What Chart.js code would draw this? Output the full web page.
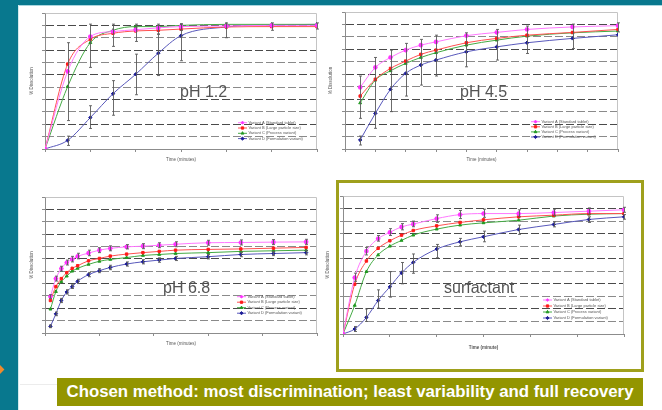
<!DOCTYPE html>
<html>
<head>
<meta charset="utf-8">
<script src="https://cdn.jsdelivr.net/npm/chart.js@4.4.0/dist/chart.umd.min.js"></script>
<style>
html, body { margin: 0; padding: 0; }
body { width: 662px; height: 410px; position: relative; overflow: hidden; background: #fff; font-family: "Liberation Sans", Arial, sans-serif; }
#topband { position: absolute; left: 0; top: 0; width: 662px; height: 5px; background: #08788e; }
#topline { position: absolute; left: 18px; top: 5px; width: 644px; height: 1px; background: #a9d6df; }
#leftband { position: absolute; left: 0; top: 0; width: 18px; height: 410px; background: #08788e; }
#leftline { position: absolute; left: 18px; top: 5px; width: 1px; height: 405px; background: #d4e9ed; }
#arrow { position: absolute; left: -4px; top: 366px; width: 7px; height: 7px; background: #f08a2c; transform: rotate(45deg); }
#faint { position: absolute; left: 20px; top: 384px; width: 37px; height: 1px; background: #ececec; }
#frame { position: absolute; left: 336px; top: 180px; width: 302px; height: 186px; border: 3px solid #9fa01c; }
#banner { position: absolute; left: 57px; top: 378px; width: 586px; height: 28px; background: #939500; color: #fff; font-weight: bold; font-size: 16.8px; line-height: 28px; text-align: center; white-space: nowrap; }
canvas { position: absolute; }
.lbl { position: absolute; font-size: 16px; color: #555; white-space: nowrap; line-height: 1; }
</style>
</head>
<body>
<div id="topband"></div>
<div id="leftband"></div>
<div id="topline"></div>
<div id="leftline"></div>
<div id="arrow"></div>
<div id="faint"></div>
<div id="frame"></div>

<canvas id="c1"></canvas>
<canvas id="c2"></canvas>
<canvas id="c3"></canvas>
<canvas id="c4"></canvas>

<div class="lbl" style="left:180px;top:84px">pH 1.2</div>
<div class="lbl" style="left:460px;top:84px">pH 4.5</div>
<div class="lbl" style="left:163px;top:280px">pH 6.8</div>
<div class="lbl" style="left:444px;top:280px">surfactant</div>

<div id="banner">Chosen method: most discrimination; least variability and full recovery</div>

<script>
var seriesNames = ['Variant A (Standard tablet)', 'Variant B (Large particle size)', 'Variant C (Process variant)', 'Variant D (Formulation variant)'];
var seriesColors = ['#ff33ff', '#ff1a1a', '#229922', '#1c1c96'];
var lineColors = ['#ff77ff', '#ff5050', '#44aa44', '#5858bb'];
var pointStyles = ['star', 'rect', 'triangle', 'rectRot'];

// pH 1.2
var ph12Time = [0, 5, 10, 15, 20, 25, 30, 40, 50, 60];
var ph12A = [0, 62.8, 91, 95, 96.5, 98, 99, 99.5, 100, 100];
var ph12B = [0, 68.7, 88.8, 93.6, 95.5, 96, 97, 98.7, 99, 99];
var ph12C = [0, 50.5, 86, 96, 99, 99, 100, 100.8, 100.8, 100.8];
var ph12D = [0, 7, 25.4, 44.7, 60.4, 77.5, 91.7, 98.7, 100.3, 100.8];
var ph12ErrHi = [null, 86, 101, 101, 101, 101, 101, null, 102, 102];
var ph12ErrLo = [null, 23, 66, 83, 87, 93, 96, null, 96, 97];
var ph12ErrDHi = [null, 10.4, 35, 55.3, 76.7, 92.8, 101.3, 102, null, null];
var ph12ErrDLo = [null, 2.9, 16.6, 27.3, 43.9, 59.4, 71.4, 90, null, null];

// pH 4.5
var ph45Time = [5, 10, 15, 20, 25, 30, 40, 50, 60, 75, 90];
var ph45A = [49.5, 65.5, 73.5, 79.4, 83.4, 86, 91, 93.6, 96, 98, 99];
var ph45B = [42.5, 56, 64.7, 70.6, 76, 79.4, 85.3, 88.8, 91.4, 93.6, 96];
var ph45C = [37, 55.3, 62.8, 68.7, 73.5, 77.3, 83.4, 87.4, 90.6, 93.3, 94.7];
var ph45D = [7.2, 28.6, 47.9, 60.7, 67.4, 71.4, 78, 82, 85.3, 88.8, 91.7];
var ph45ErrHi = [58.6, 73.5, 79.4, 84.8, 88, 91.4, 93.3, 96, 98.7, 100.3, 101.3];
var ph45ErrLo = [24.6, 16.6, 30, 42.5, 51.3, 58.6, 66, 71.4, 76.7, 80.7, 94];
var ph45ErrDHi = [10.4, null, null, null, null, null, null, null, null, null, null];
var ph45ErrDLo = [3.2, null, null, null, null, null, null, null, null, null, null];

// pH 6.8
var ph68Time = [5, 10, 15, 20, 25, 30, 40, 50, 60, 75, 90, 105, 120, 150, 180, 210, 240];
var ph68A = [29.5, 44, 52, 57, 59.5, 62, 64.6, 67, 68.4, 69.7, 70.2, 71, 71.8, 73, 73.2, 73.5, 73.7];
var ph68B = [26.3, 37.5, 44, 48.8, 52.3, 54.4, 58.4, 60.3, 62.2, 63.8, 65, 66, 67, 67.6, 68, 68.6, 69.2];
var ph68C = [19.3, 33.5, 41.5, 46, 50, 52.3, 55.5, 58, 59.5, 61, 62.7, 63.5, 64.3, 65, 66, 66.5, 67];
var ph68D = [5.4, 15.5, 26.3, 33.2, 37.5, 41.8, 47.2, 50.4, 53, 55.8, 57.6, 59, 60.3, 61.7, 63.5, 64.3, 65];
var ph68ErrHi = [31, 46, 54, 59, 62, 64.5, 67, 69, 70.5, 71.5, 72.3, 73, 73.8, 75, 75.3, 75.6, 75.8];
var ph68ErrLo = [28, 42, 50, 55, 57.5, 60, 62.5, 65, 66.5, 68, 68.2, 69, 69.8, 71, 71.2, 71.5, 71.7];
var ph68ErrDHi = [6.5, 17, 28, 35, 39, 43.5, 49, 52, 54.8, 57.5, 59.3, 60.8, 62, 63.5, 65.3, 66, 66.8];
var ph68ErrDLo = [4.3, 14, 24.6, 31.5, 36, 40, 45.5, 48.8, 51.2, 54.1, 55.9, 57.2, 58.6, 59.9, 61.7, 62.6, 63.2];

// surfactant
var surfTime = [0, 5, 10, 15, 20, 25, 30, 40, 50, 60, 75, 90, 105, 120];
var surfA = [0, 45, 66, 76, 81, 85.4, 87.6, 92, 95.2, 96, 96, 96.8, 97.9, 99];
var surfB = [0, 39.7, 58.2, 68.3, 74.3, 78.8, 82.5, 86.2, 88.9, 91, 93.4, 94.7, 96, 96];
var surfC = [0, 22.8, 49.7, 63, 70, 74.6, 78.8, 83.6, 86.8, 88.6, 90.7, 94, 95.5, 96];
var surfD = [0, 4, 13.2, 26.7, 37.6, 48.7, 57.1, 67.7, 73.5, 77.5, 83.3, 87.3, 91.3, 93.4];
var surfErrHi = [null, 48.5, 69, 78.5, 84, 88, 90, 95, 98.5, 99.5, 99, 99.5, 100.5, 101];
var surfErrLo = [null, 42, 63, 74, 78.5, 83, 85.5, 89, 92, 93, 93.5, 94.5, 95.5, 97];
var surfErrDHi = [null, 6, 20, 35.2, 49.7, 57, 63.8, 71.4, 76.2, 82, 86.8, 89.4, 93.4, 95.2];
var surfErrDLo = [null, 2, 10, 20.6, 29.4, 40, 48.4, 60.8, 70.4, 73.5, 79.4, 85.4, 88.9, 91.5];

var yTitle = '% Dissolution';

function makeChart(id, box, area, tPos, xAxis, xTitle, times, series, errSets, leg) {
  var cv = document.getElementById(id);
  cv.width = box.w; cv.height = box.h;
  cv.style.left = box.x + 'px'; cv.style.top = box.y + 'px';
  var lh = 5.4;

  var datasets = series.map(function(vals, i) {
    return {
      label: seriesNames[i],
      data: times.map(function(t, j) { return {x: t, y: vals[j]}; }),
      borderColor: lineColors[i],
      backgroundColor: seriesColors[i],
      pointBorderColor: seriesColors[i],
      pointBackgroundColor: seriesColors[i],
      pointStyle: pointStyles[i],
      pointRadius: pointStyles[i] == 'star' ? 2.3 : 1.7,
      pointBorderWidth: pointStyles[i] == 'star' ? 1.3 : 1,
      borderWidth: 1,
      cubicInterpolationMode: 'monotone',
      fill: false
    };
  });

  var framePlugin = {
    id: 'frame',
    beforeDatasetsDraw: function(chart) {
      var a = chart.chartArea, ctx = chart.ctx;
      ctx.save();
      ctx.strokeStyle = '#c4c4c4'; ctx.lineWidth = 1;
      ctx.beginPath();
      ctx.moveTo(Math.round(a.left) + 0.5, Math.round(a.top) + 0.5);
      ctx.lineTo(Math.round(a.right) - 0.5, Math.round(a.top) + 0.5);
      ctx.lineTo(Math.round(a.right) - 0.5, Math.round(a.bottom));
      ctx.stroke();
      ctx.restore();
    }
  };

  var errPlugin = {
    id: 'errorBars',
    afterDatasetsDraw: function(chart) {
      var xs = chart.scales.x, ys = chart.scales.y, ctx = chart.ctx;
      ctx.save();
      ctx.strokeStyle = '#5a5a5a'; ctx.lineWidth = 0.9;
      errSets.forEach(function(s) {
        s.hi.forEach(function(h, i) {
          var l = s.lo[i];
          if (h == null || l == null) return;
          var x = Math.round(xs.getPixelForValue(times[i])) + 0.5;
          var y1 = ys.getPixelForValue(h), y2 = ys.getPixelForValue(l);
          ctx.beginPath();
          ctx.moveTo(x, y1); ctx.lineTo(x, y2);
          ctx.moveTo(x - 1.5, y1); ctx.lineTo(x + 1.5, y1);
          ctx.moveTo(x - 1.5, y2); ctx.lineTo(x + 1.5, y2);
          ctx.stroke();
        });
      });
      ctx.restore();
    }
  };

  var legendPlugin = {
    id: 'miniLegend',
    afterDraw: function(chart) {
      var ctx = chart.ctx;
      var lx = leg.x - box.x, ly = leg.y - box.y;
      ctx.save();
      ctx.font = '4px "Liberation Sans", Arial';
      ctx.textBaseline = 'middle';
      chart.data.datasets.forEach(function(ds, i) {
        var y = ly + i * leg.dy;
        ctx.strokeStyle = ds.borderColor; ctx.lineWidth = 1;
        ctx.beginPath(); ctx.moveTo(lx, y); ctx.lineTo(lx + 9, y); ctx.stroke();
        ctx.strokeStyle = ds.pointBorderColor; ctx.fillStyle = ds.pointBackgroundColor;
        Chart.helpers.drawPoint(ctx, {pointStyle: ds.pointStyle, radius: 1.6, borderWidth: 1, rotation: 0}, lx + 4.5, y);
        ctx.fillStyle = '#555';
        ctx.fillText(ds.label, lx + 10.5, y);
      });
      ctx.restore();
    }
  };

  return new Chart(cv, {
    type: 'line',
    data: {datasets: datasets},
    plugins: [framePlugin, errPlugin, legendPlugin],
    options: {
      responsive: false,
      animation: false,
      events: [],
      layout: {padding: {left: 0, bottom: 0, top: area.top - box.y, right: box.x + box.w - area.right}},
      plugins: {legend: {display: false}, tooltip: {enabled: false}},
      scales: {
        x: {
          type: 'linear', min: 0, max: xAxis.max,
          ticks: {display: false, stepSize: xAxis.step},
          grid: {drawOnChartArea: false, drawTicks: true, tickLength: 3, tickColor: '#8c8c8c'},
          border: {color: '#8c8c8c'},
          title: {display: true, text: xTitle, color: '#555', font: {size: 4.5, weight: xAxis.bold ? 'bold' : 'normal'},
                  padding: {top: 0, bottom: box.y + box.h - tPos.xy - lh / 2}},
          afterFit: function(s) { s.height = box.y + box.h - area.bottom; }
        },
        y: {
          min: 0, max: 110,
          ticks: {display: false, stepSize: 10},
          grid: {
            drawTicks: true, tickLength: 3, tickColor: '#8c8c8c', lineWidth: 1,
            color: function(c) {
              var v = c.tick ? c.tick.value : 0;
              if (v == 0 || v == 110) return 'rgba(0,0,0,0)';
              return v % 20 == 0 ? '#4a4a4a' : '#8a8a8a';
            }
          },
          border: {color: '#8c8c8c', dash: [8, 3]},
          title: {display: true, text: yTitle, color: '#555', font: {size: 4.5},
                  padding: {top: tPos.yx - box.x - lh / 2, bottom: 0}},
          afterFit: function(s) { s.width = area.left - box.x; }
        }
      }
    }
  });
}

makeChart('c1', {x: 20, y: 4, w: 305, h: 172}, {left: 45, top: 13, right: 317, bottom: 149},
  {xy: 160, yx: 32}, {max: 60, step: 10}, 'Time (minutes)', ph12Time, [ph12A, ph12B, ph12C, ph12D],
  [{hi: ph12ErrHi, lo: ph12ErrLo}, {hi: ph12ErrDHi, lo: ph12ErrDLo}], {x: 238, y: 122.7, dy: 5.3});

makeChart('c2', {x: 325, y: 4, w: 300, h: 172}, {left: 345, top: 12, right: 618, bottom: 149},
  {xy: 160, yx: 331}, {max: 90, step: 10}, 'Time (minutes)', ph45Time, [ph45A, ph45B, ph45C, ph45D],
  [{hi: ph45ErrHi, lo: ph45ErrLo}, {hi: ph45ErrDHi, lo: ph45ErrDLo}], {x: 531, y: 121.7, dy: 5.1});

makeChart('c3', {x: 20, y: 190, w: 305, h: 170}, {left: 45, top: 197, right: 317, bottom: 333},
  {xy: 344, yx: 32}, {max: 250, step: 50}, 'Time (minutes)', ph68Time, [ph68A, ph68B, ph68C, ph68D],
  [{hi: ph68ErrHi, lo: ph68ErrLo}, {hi: ph68ErrDHi, lo: ph68ErrDLo}], {x: 237, y: 296.7, dy: 5.5});

makeChart('c4', {x: 322, y: 186, w: 308, h: 174}, {left: 343, top: 196, right: 624, bottom: 334},
  {xy: 348, yx: 328}, {max: 120, step: 20, bold: true}, 'Time (minute)', surfTime, [surfA, surfB, surfC, surfD],
  [{hi: surfErrHi, lo: surfErrLo}, {hi: surfErrDHi, lo: surfErrDLo}], {x: 543, y: 300, dy: 6});
</script>
</body>
</html>
